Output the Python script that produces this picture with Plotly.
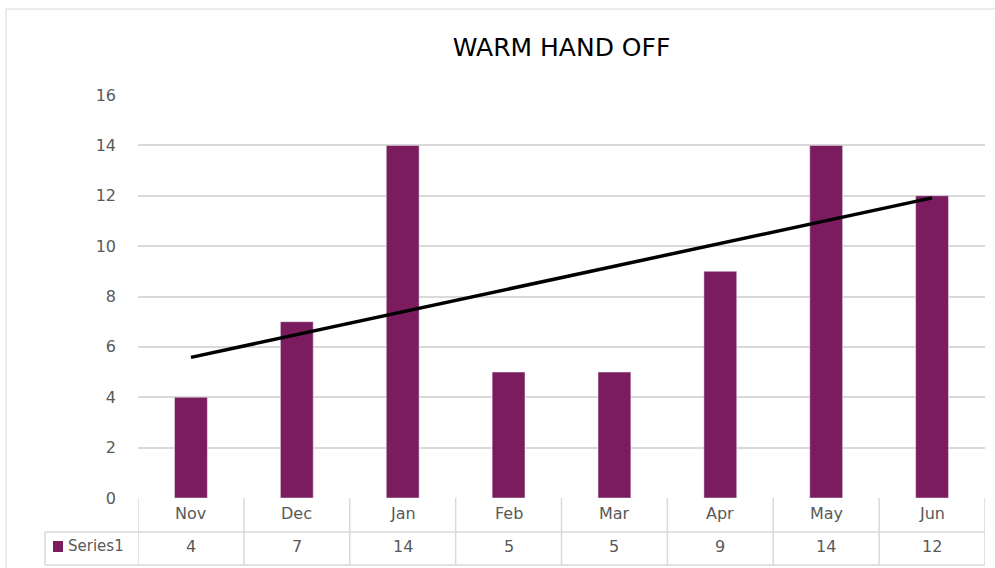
import numpy as np
import plotly.graph_objects as go

categories = ["Nov", "Dec", "Jan", "Feb", "Mar", "Apr", "May", "Jun"]
values = [4, 7, 14, 5, 5, 9, 14, 12]
series_name = "Series1"
title_text = "WARM HAND OFF"
y_ticks = [0, 2, 4, 6, 8, 10, 12, 14, 16]

BAR = "#7B1C5E"
GRID = "#D9D9D9"
TXT = "#595959"
FONT = "DejaVu Sans"

# linear trendline (least squares on the data)
xi = np.arange(1, len(values) + 1)
slope, intercept = np.polyfit(xi, values, 1)
trend = slope * xi + intercept

W, H = 995, 568
L, R, T, B = 138, 10, 95, 70
pw, ph = W - L - R, H - T - B

def py(pix):  # pixel y -> paper y
    return (H - B - pix) / ph

def px(pix):  # pixel x -> paper x
    return (pix - L) / pw

fig = go.Figure()
fig.add_trace(go.Bar(x=categories, y=values, marker_color=BAR, width=0.31,
                     name=series_name, showlegend=False))
fig.add_trace(go.Scatter(x=categories, y=trend, mode="lines",
                         line=dict(color="black", width=3.5), showlegend=False))

shapes = []
# outer chart border
shapes.append(dict(type="rect", xref="paper", yref="paper", x0=px(6), x1=px(1000),
                   y0=py(575), y1=py(9), line=dict(color=GRID, width=1), layer="below"))
n = len(categories)
# data table lines
row1_bot, row2_bot = 532, 565
shapes.append(dict(type="line", xref="paper", yref="paper", x0=px(45), x1=1,
                   y0=py(row1_bot), y1=py(row1_bot), line=dict(color=GRID, width=1.5)))
shapes.append(dict(type="line", xref="paper", yref="paper", x0=px(45), x1=1,
                   y0=py(row2_bot), y1=py(row2_bot), line=dict(color=GRID, width=1.5)))
shapes.append(dict(type="line", xref="paper", yref="paper", x0=px(45), x1=px(45),
                   y0=py(row1_bot), y1=py(row2_bot), line=dict(color=GRID, width=1.5)))
for k in range(n + 1):
    shapes.append(dict(type="line", xref="x", yref="paper", x0=k - 0.5, x1=k - 0.5,
                       y0=0, y1=py(row2_bot), line=dict(color=GRID, width=1.5)))
# legend key square
shapes.append(dict(type="rect", xref="paper", yref="paper", x0=px(53), x1=px(63),
                   y0=py(552), y1=py(541), fillcolor=BAR, line=dict(width=0)))

annotations = []
for c, v in zip(categories, values):
    annotations.append(dict(x=c, xref="x", y=py(513), yref="paper", yanchor="middle",
                            text=c, showarrow=False,
                            font=dict(family=FONT, size=16, color=TXT)))
    annotations.append(dict(x=c, xref="x", y=py(546), yref="paper", yanchor="middle",
                            text=str(v), showarrow=False,
                            font=dict(family=FONT, size=16, color=TXT)))
annotations.append(dict(x=px(66), xref="paper", y=py(546), yref="paper", yanchor="middle",
                        text=series_name, xanchor="left", showarrow=False,
                        font=dict(family=FONT, size=15, color=TXT)))

fig.update_layout(
    width=W, height=H,
    margin=dict(l=L, r=R, t=T, b=B),
    paper_bgcolor="white", plot_bgcolor="white",
    title=dict(text=title_text, x=0.5, xref="paper", xanchor="center",
               y=1 - 47 / H, yref="container", yanchor="middle",
               font=dict(family=FONT, size=25, color="black")),
    xaxis=dict(showticklabels=False, showgrid=False, zeroline=False, showline=False,
               ticks="", range=[-0.5, n - 0.5]),
    yaxis=dict(range=[0, 16], tickvals=y_ticks, showgrid=True, gridcolor=GRID, gridwidth=1.5,
               zeroline=False, showline=False, ticks="", ticklabelstandoff=21,
               tickfont=dict(family=FONT, size=16, color=TXT)),
    shapes=shapes, annotations=annotations,
    bargap=0.69, showlegend=False,
)
fig.write_html("out.html", config={"displayModeBar": False},
               post_script="document.body.style.margin='0';")
